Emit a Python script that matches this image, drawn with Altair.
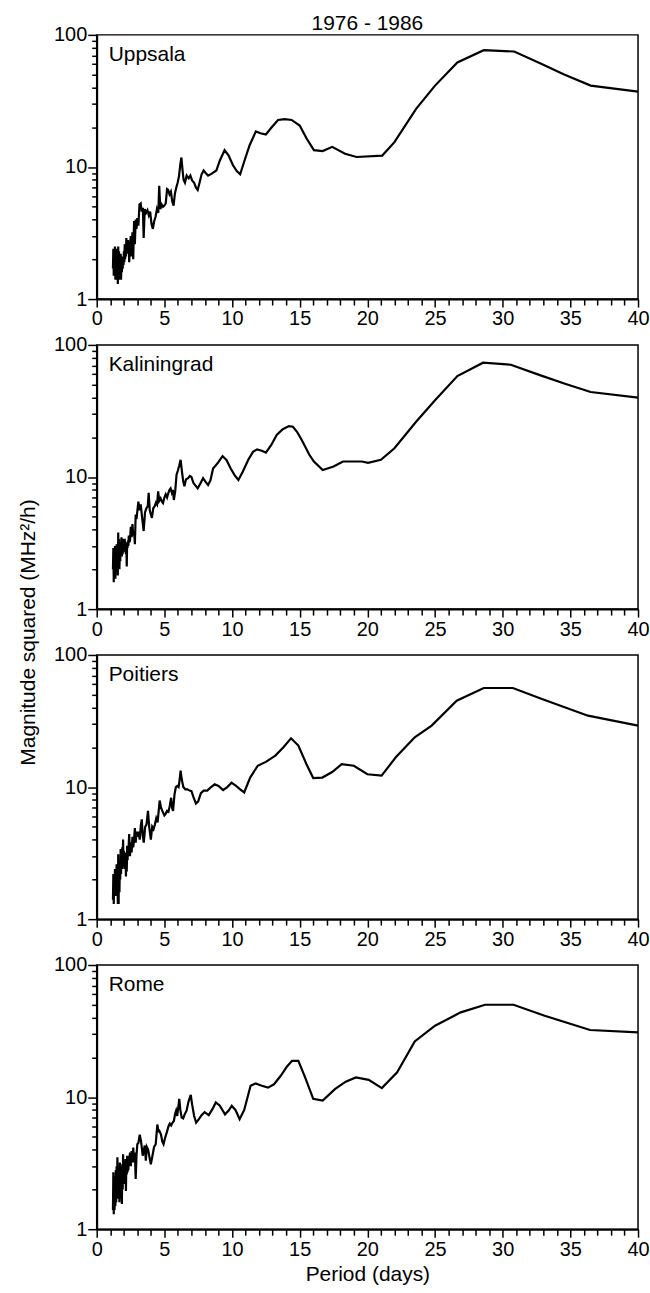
import altair as alt
import pandas as pd

FONT = "Liberation Sans"
STATIONS = ["Uppsala", "Kaliningrad", "Poitiers", "Rome"]
TITLE = "1976 - 1986"

# shared fine period grid for the noisy short-period part (days)
EARLY_PERIOD = [1.20, 1.23, 1.26, 1.29, 1.32, 1.35, 1.38, 1.41, 1.44, 1.47,
                1.50, 1.53, 1.56, 1.59, 1.62, 1.65, 1.68, 1.71, 1.74, 1.77,
                1.80, 1.83, 1.86, 1.89, 1.92, 1.95, 1.98, 2.01, 2.04, 2.07,
                2.10, 2.13, 2.16, 2.19, 2.22, 2.25, 2.28, 2.31, 2.34, 2.37,
                2.40, 2.46, 2.52, 2.58, 2.64, 2.70, 2.76, 2.82, 2.88, 2.94, 3.00]

U_EARLY = [1.7, 2.4, 1.5, 2.3, 1.6, 2.5, 1.4, 2.2, 1.5, 2.4,
           1.4, 2.1, 1.3, 2.5, 1.5, 2.3, 1.4, 2.0, 1.5, 2.2,
           1.4, 2.0, 1.6, 2.1, 1.7, 2.0, 1.8, 2.3, 1.9, 2.6,
           2.0, 2.4, 2.1, 2.9, 2.2, 2.6, 2.2, 2.8, 2.3, 2.5,
           1.9, 2.6, 3.0, 2.1, 3.2, 2.0, 3.9, 2.6, 4.0, 3.4, 4.1]
U_PERIOD = [3.08, 3.16, 3.25, 3.33, 3.41, 3.47, 3.55, 3.65, 3.75, 3.85, 3.95, 4.05, 4.15,
            4.25, 4.35, 4.45, 4.55, 4.62, 4.70, 4.80, 4.90, 5.00, 5.10, 5.20, 5.28, 5.38,
            5.48, 5.58, 5.68, 5.78, 5.88, 5.98, 6.08, 6.18, 6.26, 6.34, 6.42, 6.52, 6.65,
            6.80, 6.92, 7.05, 7.20, 7.33, 7.46, 7.60, 7.75, 7.90, 8.05, 8.23, 8.50, 8.84,
            9.10, 9.45, 9.75, 10.07, 10.35, 10.60, 10.90, 11.30, 11.76, 12.10, 12.50, 12.90,
            13.40, 13.90, 14.40, 15.00, 15.50, 16.05, 16.70, 17.40, 18.35, 19.20, 21.10,
            22.00, 23.60, 25.00, 26.65, 28.60, 30.85, 32.80, 34.50, 36.50, 40.00]
U_VALUE = [3.6, 5.2, 5.3, 4.6, 4.9, 2.9, 4.8, 4.5, 4.7, 4.3, 4.6, 3.7, 3.4, 3.9, 4.2, 4.8,
           4.5, 7.2, 4.8, 5.2, 5.0, 5.1, 5.3, 6.8, 6.7, 6.2, 6.5, 5.5, 5.1, 6.3, 7.0, 7.6,
           8.5, 10.5, 11.8, 9.5, 8.0, 7.6, 8.6, 8.2, 8.6, 7.9, 7.6, 7.0, 6.7, 7.6, 8.8, 9.4,
           9.0, 8.6, 8.9, 9.4, 11.2, 13.4, 12.2, 10.3, 9.3, 8.8, 11.0, 14.6, 18.6, 18.0, 17.6,
           19.8, 22.7, 23.0, 22.7, 20.6, 16.5, 13.4, 13.2, 14.2, 12.6, 11.9, 12.2, 15.4, 27.5,
           41.3, 61.8, 76.6, 74.8, 60.8, 50.3, 41.3, 37.2]

K_EARLY = [2.0, 2.9, 1.6, 2.7, 1.8, 3.0, 1.7, 2.6, 1.9, 3.1,
           2.0, 2.8, 1.8, 3.8, 2.2, 3.4, 2.0, 3.2, 2.3, 3.0,
           2.6, 3.5, 2.5, 3.3, 2.6, 3.4, 2.7, 3.3, 2.8, 3.4,
           2.9, 3.2, 2.6, 3.0, 2.1, 3.2, 2.9, 3.3, 3.0, 3.6,
           3.2, 3.3, 4.2, 3.5, 4.4, 3.6, 3.9, 3.1, 5.2, 4.8, 5.5]
K_PERIOD = [3.08, 3.16, 3.25, 3.35, 3.47, 3.57, 3.67, 3.77, 3.84, 3.92, 4.00, 4.08, 4.18,
            4.28, 4.38, 4.46, 4.54, 4.62, 4.72, 4.82, 4.90, 5.00, 5.10, 5.20, 5.30, 5.38,
            5.46, 5.55, 5.63, 5.70, 5.80, 5.90, 6.00, 6.10, 6.20, 6.30, 6.40, 6.48, 6.60,
            6.75, 6.88, 7.00, 7.15, 7.30, 7.46, 7.65, 7.86, 8.05, 8.23, 8.40, 8.60, 8.95,
            9.30, 9.60, 9.90, 10.20, 10.47, 10.80, 11.20, 11.55, 11.85, 12.20, 12.50, 12.90,
            13.30, 13.75, 14.20, 14.50, 14.80, 15.10, 15.40, 15.70, 16.05, 16.70, 17.50,
            18.20, 19.60, 20.05, 21.00, 22.00, 23.60, 25.00, 26.65, 28.55, 30.60, 32.80,
            34.60, 36.50, 40.00]
K_VALUE = [6.5, 5.6, 6.2, 5.0, 3.9, 5.4, 5.8, 6.0, 7.6, 5.6, 5.2, 4.9, 5.8, 6.0, 6.4, 6.2,
           7.8, 6.6, 6.9, 6.5, 6.35, 7.0, 7.4, 7.0, 7.6, 8.0, 8.2, 7.6, 8.0, 6.7, 7.8, 10.4,
           11.2, 12.2, 13.5, 11.0, 9.2, 8.5, 9.6, 9.8, 10.2, 10.0, 9.0, 8.6, 8.2, 8.9, 9.8,
           9.2, 8.7, 9.4, 11.6, 12.8, 14.4, 13.4, 11.6, 10.3, 9.5, 11.0, 13.5, 15.5, 16.2,
           15.8, 15.3, 17.5, 20.8, 23.0, 24.3, 24.0, 22.0, 19.5, 17.0, 14.8, 13.1, 11.3, 12.0,
           13.1, 13.1, 12.8, 13.5, 16.5, 26.2, 38.1, 58.1, 73.3, 70.8, 58.8, 50.8, 44.0, 39.9]

P_EARLY = [1.4, 2.2, 1.3, 2.0, 1.6, 2.4, 1.5, 2.3, 1.7, 2.6,
           1.5, 2.4, 1.3, 3.1, 1.3, 2.6, 1.6, 2.5, 2.0, 3.4,
           2.2, 3.0, 2.4, 3.5, 2.6, 4.0, 2.5, 3.3, 2.4, 3.0,
           2.5, 3.2, 2.1, 3.0, 2.3, 3.6, 2.8, 3.4, 3.0, 3.8,
           4.4, 3.0, 3.8, 3.2, 4.2, 3.5, 4.0, 4.9, 3.8, 4.6, 4.2]
P_PERIOD = [3.08, 3.18, 3.26, 3.33, 3.40, 3.48, 3.58, 3.68, 3.79, 3.88, 4.00, 4.10, 4.20,
            4.30, 4.40, 4.50, 4.58, 4.65, 4.75, 4.85, 5.00, 5.10, 5.20, 5.30, 5.40, 5.50,
            5.57, 5.64, 5.75, 5.85, 5.95, 6.05, 6.12, 6.20, 6.28, 6.40, 6.55, 6.70, 6.87,
            7.00, 7.15, 7.33, 7.50, 7.70, 7.90, 8.17, 8.45, 8.72, 9.00, 9.34, 9.65, 9.96,
            10.30, 10.60, 10.90, 11.34, 11.90, 12.50, 13.20, 13.80, 14.36, 14.90, 15.50,
            16.00, 16.67, 17.40, 18.10, 19.00, 20.00, 21.05, 22.10, 23.50, 24.75, 26.60,
            28.60, 30.75, 32.90, 36.30, 40.00]
P_VALUE = [4.6, 4.0, 5.1, 5.7, 4.3, 3.8, 5.0, 5.2, 6.6, 5.0, 4.0, 5.0, 4.8, 5.2, 5.8, 5.4,
           6.6, 7.9, 7.0, 6.6, 6.1, 6.3, 6.6, 6.5, 7.2, 8.3, 7.0, 6.6, 8.8, 10.0, 10.2, 10.0,
           11.2, 13.3, 11.5, 10.0, 9.6, 9.6, 9.4, 9.3, 8.4, 7.5, 7.8, 9.0, 9.4, 9.4, 10.0,
           10.5, 10.2, 9.5, 10.0, 10.8, 10.2, 9.6, 9.1, 11.8, 14.5, 15.5, 17.3, 20.0, 23.4,
           20.6, 14.9, 11.7, 11.8, 13.0, 14.9, 14.5, 12.5, 12.2, 16.8, 23.8, 29.2, 45.1,
           56.2, 56.2, 46.4, 34.7, 29.2]

R_EARLY = [1.4, 2.7, 1.3, 2.4, 1.4, 2.5, 1.5, 2.8, 1.6, 3.0,
           2.0, 3.5, 1.7, 3.0, 1.8, 2.8, 1.6, 3.2, 1.9, 3.0,
           1.7, 2.6, 1.55, 3.1, 2.0, 3.7, 2.2, 3.3, 2.4, 3.1,
           2.2, 3.4, 1.95, 3.2, 2.6, 3.6, 2.7, 3.5, 2.8, 3.6,
           3.2, 3.8, 3.0, 3.9, 3.2, 4.15, 3.2, 3.8, 2.4, 3.6, 4.4]
R_PERIOD = [3.08, 3.18, 3.28, 3.40, 3.55, 3.63, 3.70, 3.80, 3.90, 4.00, 4.12, 4.24, 4.36,
            4.48, 4.56, 4.63, 4.75, 4.85, 4.94, 5.05, 5.18, 5.30, 5.40, 5.50, 5.60, 5.70,
            5.80, 5.87, 5.95, 6.03, 6.10, 6.18, 6.28, 6.39, 6.50, 6.64, 6.78, 6.95, 7.05,
            7.20, 7.35, 7.55, 7.75, 7.97, 8.28, 8.55, 8.80, 9.10, 9.48, 9.75, 9.98, 10.25,
            10.56, 10.90, 11.37, 11.74, 12.20, 12.66, 13.10, 13.60, 14.05, 14.43, 14.90,
            15.40, 16.00, 16.70, 17.60, 18.40, 19.15, 20.10, 21.07, 22.20, 23.50, 25.00,
            26.90, 28.70, 30.80, 33.10, 36.45, 40.00]
R_VALUE = [4.5, 5.2, 4.6, 3.6, 4.3, 3.3, 4.2, 4.0, 3.5, 3.1, 3.6, 4.2, 4.4, 6.2, 5.5, 5.55,
           5.2, 4.6, 4.4, 4.9, 5.4, 6.0, 6.3, 6.1, 6.4, 6.6, 7.5, 7.9, 7.2, 8.4, 9.7, 8.0,
           7.0, 6.9, 7.4, 7.9, 9.2, 10.4, 8.8, 7.2, 6.4, 6.8, 7.3, 7.7, 7.3, 8.1, 9.1, 8.6,
           7.4, 7.9, 8.6, 8.0, 6.8, 8.0, 12.2, 12.7, 12.2, 11.8, 12.5, 14.5, 17.0, 18.8, 18.8,
           14.1, 9.7, 9.4, 11.5, 13.1, 14.1, 13.5, 11.7, 15.4, 26.4, 34.7, 43.8, 50.0, 50.0,
           41.3, 32.2, 30.9]

X_TICKS = list(range(0, 41))
Y_TICKS = [1, 2, 3, 4, 5, 6, 7, 8, 9, 10, 20, 30, 40, 50, 60, 70, 80, 90, 100]

SERIES = {
    "Uppsala": (U_EARLY, U_PERIOD, U_VALUE),
    "Kaliningrad": (K_EARLY, K_PERIOD, K_VALUE),
    "Poitiers": (P_EARLY, P_PERIOD, P_VALUE),
    "Rome": (R_EARLY, R_PERIOD, R_VALUE),
}

W, H = 543, 265
MAJOR = "datum.value === 1 || datum.value === 10 || datum.value === 100"


def panel(name, idx):
    early, per, val = SERIES[name]
    df = pd.DataFrame({"period": EARLY_PERIOD + per, "value": early + val})
    df["i"] = range(len(df))

    x_axis = dict(
        values=X_TICKS,
        labelExpr="datum.value % 5 === 0 ? format(datum.value, 'd') : ''",
        tickSize={"condition": {"test": "datum.value % 5 === 0", "value": 8}, "value": 6},
        labelFlush=False, labelOverlap=False, labelPadding=2,
        labelFontSize=20, labelFont=FONT, labelColor="black",
        tickColor="black", tickWidth=1.5, domainColor="black", domainWidth=2,
        grid=False,
    )
    if idx == 3:
        x_axis.update(title="Period (days)", titleFontSize=21, titleFont=FONT,
                      titleFontWeight="normal", titleColor="black", titlePadding=4)
    else:
        x_axis.update(title=None)

    y_axis = dict(
        values=Y_TICKS,
        labelExpr="(" + MAJOR + ") ? format(datum.value, 'd') : ''",
        tickSize={"condition": {"test": MAJOR, "value": 9}, "value": 5},
        labelOverlap=False, labelPadding=1,
        labelFontSize=20, labelFont=FONT, labelColor="black",
        tickColor="black", tickWidth=1.5, domainColor="black", domainWidth=2,
        grid=False,
    )
    if idx == 1:
        y_axis.update(title="Magnitude squared (MHz\u00b2/h)", titleFontSize=21, titleFont=FONT,
                      titleFontWeight="normal", titleColor="black", titleAngle=270,
                      titleX=-68, titleY=H + 23, titleAlign="center", titleBaseline="middle")
    else:
        y_axis.update(title=None)

    line = alt.Chart(df).mark_line(color="black", strokeWidth=2.2, clip=True).encode(
        x=alt.X("period:Q", scale=alt.Scale(domain=[0, 40], nice=False, zero=False),
                axis=alt.Axis(**x_axis)),
        y=alt.Y("value:Q", scale=alt.Scale(type="log", domain=[1, 100], nice=False),
                axis=alt.Axis(**y_axis)),
        order="i:Q",
    )
    label = alt.Chart(pd.DataFrame({"name": [name]})).mark_text(
        align="left", baseline="alphabetic", fontSize=21, font=FONT, color="black"
    ).encode(x=alt.value(12), y=alt.value(26), text="name:N")

    layers = [line, label]
    if idx == 0:
        title = alt.Chart(pd.DataFrame({"t": [TITLE]})).mark_text(
            align="center", baseline="alphabetic", fontSize=21, font=FONT, color="black"
        ).encode(x=alt.value(W / 2), y=alt.value(-5), text="t:N")
        layers.append(title)
    return alt.layer(*layers).properties(width=W, height=H)


panels = [panel(n, i) for i, n in enumerate(STATIONS)]

chart = alt.vconcat(*panels, spacing=46, bounds="flush").properties(
    padding={"left": 17, "top": 10, "right": 0, "bottom": 0},
    background="white",
).configure_view(stroke="black", strokeWidth=1.5)

chart.save("out.html", embed_options={"renderer": "svg", "actions": False})
